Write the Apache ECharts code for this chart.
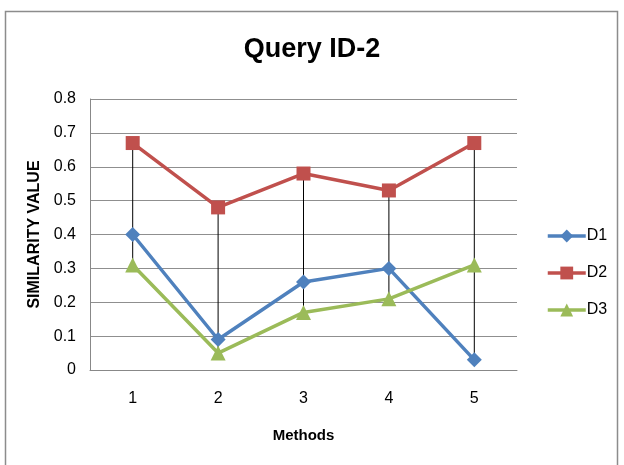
<!DOCTYPE html>
<html><head><meta charset="utf-8">
<script src="https://cdn.jsdelivr.net/npm/echarts@6/dist/echarts.min.js"></script>
<style>html,body{margin:0;padding:0;background:#fff}#c{width:624px;height:465px}</style>
</head><body><div id="c"></div>
<script>
const categories = ['1', '2', '3', '4', '5'];
const d1 = [0.40, 0.09, 0.26, 0.30, 0.03];
const d2 = [0.67, 0.48, 0.58, 0.53, 0.67];
const d3 = [0.31, 0.05, 0.17, 0.21, 0.31];
const seriesNames = ['D1', 'D2', 'D3'];

const hiLo = categories.map((c, i) => {
  const vals = [d1[i], d2[i], d3[i]];
  return [i, Math.min.apply(null, vals), Math.max.apply(null, vals)];
});

const FONT = '"Liberation Sans", Arial, sans-serif';
const chart = echarts.init(document.getElementById('c'), null, {renderer: 'canvas'});
const lineCommon = (name, data, color, symbol, size) => ({
  name, type: 'line', data, symbol, symbolSize: size, z: 3,
  lineStyle: {color, width: 3.5}, itemStyle: {color},
  emphasis: {disabled: true}, animation: false
});
chart.setOption({
  animation: false,
  title: {
    text: 'Query ID-2', left: 'center', top: 31,
    textStyle: {fontFamily: FONT, fontSize: 27, fontWeight: 'bold', color: '#000'}
  },
  graphic: [{
    type: 'rect', shape: {x: 5.5, y: 11.5, width: 612, height: 480},
    style: {fill: 'none', stroke: '#8c8c8c', lineWidth: 1.5}, silent: true
  }],
  legend: {
    orient: 'vertical', left: 541, top: 223, itemGap: 21,
    itemWidth: 38, itemHeight: 16,
    data: seriesNames,
    lineStyle: {width: 3.5},
    textStyle: {fontFamily: FONT, fontSize: 16, color: '#000', padding: [0, 0, 0, -4]}
  },
  grid: {left: 90, right: 107, top: 99, bottom: 95},
  xAxis: {
    type: 'category', data: categories, boundaryGap: true,
    name: 'Methods', nameLocation: 'middle', nameGap: 58,
    nameTextStyle: {fontFamily: FONT, fontSize: 15, fontWeight: 'bold', color: '#000'},
    axisLine: {lineStyle: {color: '#888', width: 1}},
    axisTick: {show: false},
    axisLabel: {fontFamily: FONT, fontSize: 16, color: '#000', margin: 21}
  },
  yAxis: {
    type: 'value', min: 0, max: 0.8, interval: 0.1,
    name: 'SIMILARITY VALUE', nameLocation: 'middle', nameGap: 45,
    nameTextStyle: {fontFamily: FONT, fontSize: 16, fontWeight: 'bold', color: '#000'},
    axisLine: {show: true, lineStyle: {color: '#888', width: 1}},
    axisTick: {show: false},
    splitLine: {lineStyle: {color: '#8f8f8f', width: 1}},
    axisLabel: {fontFamily: FONT, fontSize: 16, color: '#000', margin: 14,
      formatter: v => (Math.round(v * 10) / 10).toString()}
  },
  series: [
    {
      type: 'custom', data: hiLo, z: 2, silent: true, animation: false,
      renderItem: (params, api) => {
        const lo = api.coord([api.value(0), api.value(1)]);
        const hi = api.coord([api.value(0), api.value(2)]);
        return {type: 'line', shape: {x1: lo[0], y1: lo[1], x2: hi[0], y2: hi[1]},
          style: {stroke: '#000', lineWidth: 1}};
      }
    },
    lineCommon('D1', d1, '#4F81BD', 'diamond', 15),
    lineCommon('D2', d2, '#C0504D', 'rect', 14),
    lineCommon('D3', d3, '#9BBB59', 'triangle', 15)
  ]
});
</script></body></html>
